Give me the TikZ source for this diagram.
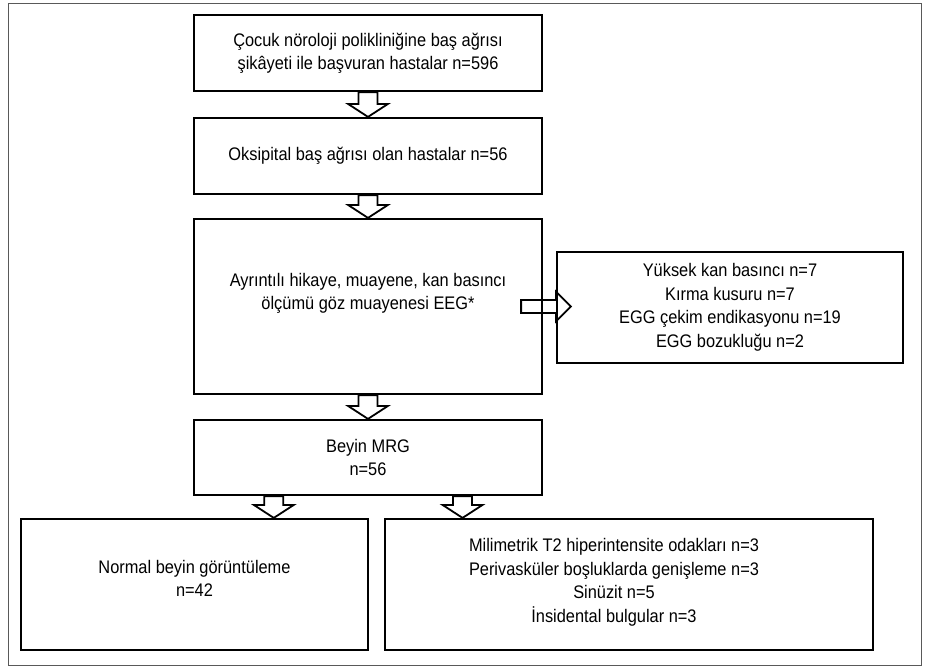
\documentclass[tikz,border=0pt]{standalone}
\usepackage{fontspec}
\setmainfont{Liberation Sans}[FakeStretch=0.9]
\usetikzlibrary{calc,backgrounds}

% hollow block arrows between two points
\newcommand{\blkdown}[2]{%
  \draw[blk] let \p1=(#1), \p2=(#2) in
    (\x1-9.5pt,\y1) -- (\x1-9.5pt,\y2+13pt) -- (\x1-20pt,\y2+13pt) -- (\x1,\y2)
    -- (\x1+20pt,\y2+13pt) -- (\x1+9.5pt,\y2+13pt) -- (\x1+9.5pt,\y1) -- cycle;}
\newcommand{\blkright}[2]{%
  \draw[blk] let \p1=(#1), \p2=(#2) in
    (\x1,\y1-6.5pt) -- (\x2-15pt,\y1-6.5pt) -- (\x2-15pt,\y1-15pt) -- (\x2,\y1)
    -- (\x2-15pt,\y1+15pt) -- (\x2-15pt,\y1+6.5pt) -- (\x1,\y1+6.5pt) -- cycle;}

\begin{document}
\begin{tikzpicture}[x=1pt,y=-1pt,
        box/.style={draw,line width=2.2pt,inner sep=0pt},
        txt/.style={align=center,font=\fontsize{18.2}{23.5}\selectfont},
        blk/.style={draw,fill=white,line width=1.8pt,line join=miter}]

            \useasboundingbox (0,0) rectangle (927,667);
            \draw[line width=1pt,black!65](8, 3) rectangle (921, 665);

            \node[box,txt,minimum width=348pt,minimum height=76pt] at(368, 53)(b1){Çocuk nöroloji polikliniğine baş ağrısı\\şikâyeti ile başvuran hastalar n=596};
            \node[box,txt,minimum width=348pt,minimum height=76pt] at(368, 156)(b2){Oksipital baş ağrısı olan hastalar n=56};
            \node[box,minimum width=348pt,minimum height=175pt] at(368, 306.5)(b3){};
                \node[txt] at([yshift=13pt]b3.center)(t3){Ayrıntılı hikaye, muayene, kan basıncı\\ölçümü göz muayenesi EEG*};
            \node[box,txt,minimum width=346pt,minimum height=111pt] at(730, 307.5)(b4){Yüksek kan basıncı n=7\\Kırma kusuru n=7\\EGG çekim endikasyonu n=19\\EGG bozukluğu n=2};
            \node[box,txt,minimum width=348pt,minimum height=75pt] at(368, 457.5)(b5){Beyin MRG\\n=56};
            \node[box,minimum width=347pt,minimum height=131pt] at(194.5, 584.5)(b6){};
                \node[txt] at([yshift=6pt]b6.center)(t6){Normal beyin görüntüleme\\n=42};
            \node[box,minimum width=488pt,minimum height=131pt] at(629, 584.5)(b7){};
                \node[txt] at([xshift=-15pt,yshift=2pt]b7.center)(t7){Milimetrik T2 hiperintensite odakları n=3\\Perivasküler boşluklarda genişleme n=3\\Sinüzit n=5\\İnsidental bulgular n=3};

            \coordinate (s6) at ($(b5.south west)!0.231!(b5.south east)$);
            \coordinate (s7) at ($(b5.south west)!0.770!(b5.south east)$);
            \coordinate (r3) at ([xshift=-22pt]b3.east);
            \coordinate (r4) at ([xshift=15pt]b4.west);

            \begin{scope}[on background layer]
                \blkdown{b1.south}{b2.north}
                \blkdown{b2.south}{b3.north}
                \blkdown{b3.south}{b5.north}
                \blkdown{s6}{s6 |- b6.north}
                \blkdown{s7}{s7 |- b7.north}
                \blkright{r3}{r4}
            \end{scope}

        \end{tikzpicture}
\end{document}
